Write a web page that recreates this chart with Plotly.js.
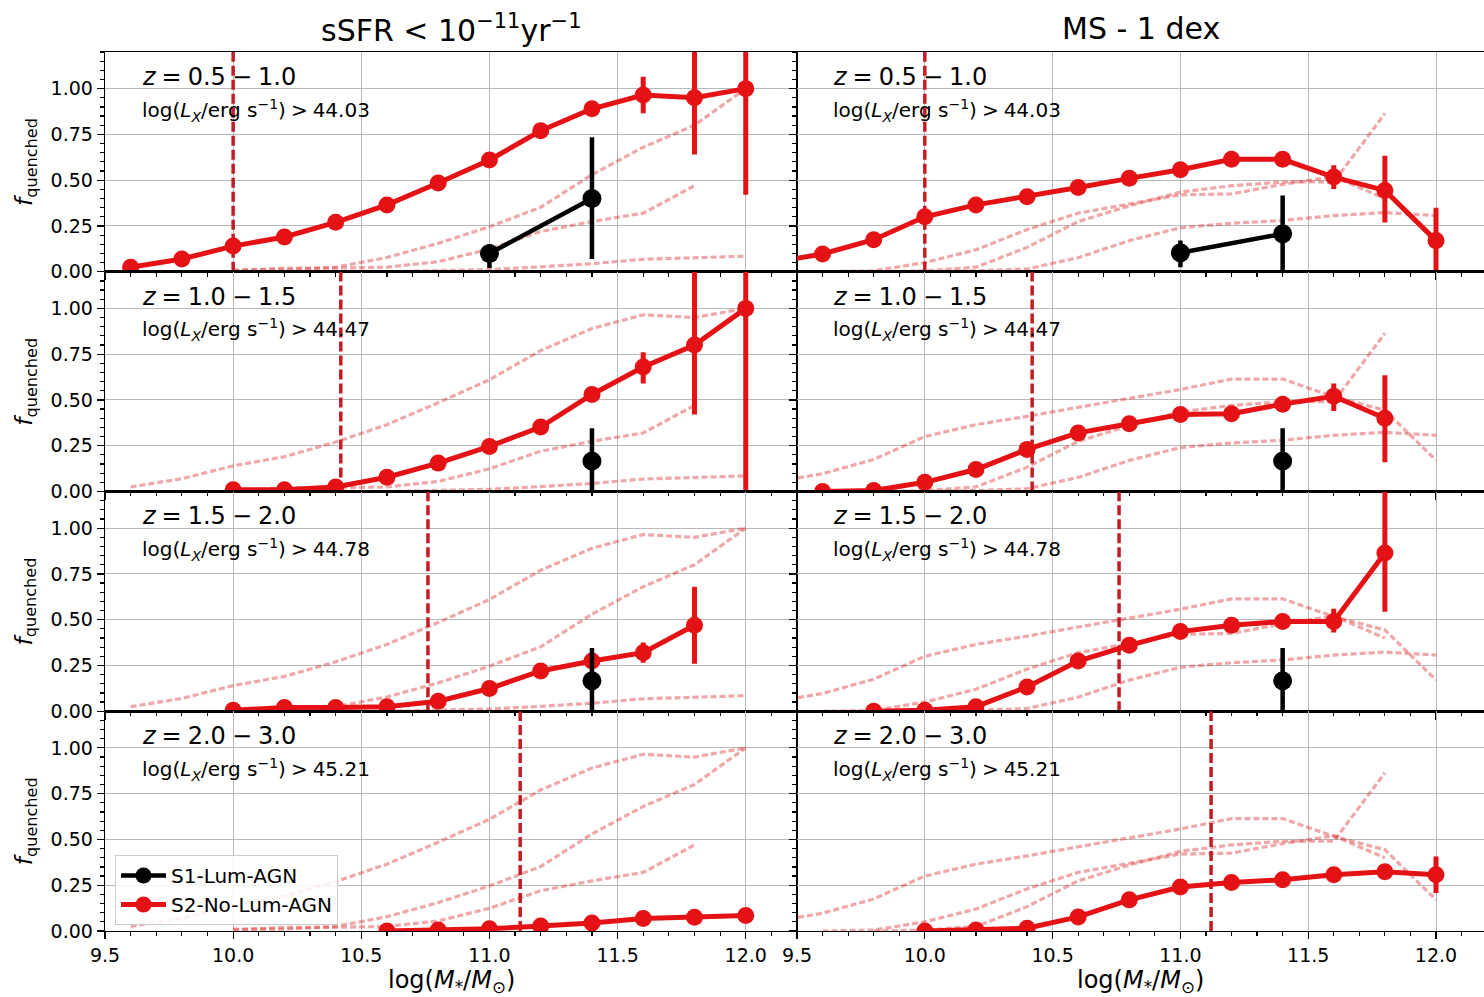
<!DOCTYPE html>
<html>
<head>
<meta charset="utf-8">
<script src="https://cdn.plot.ly/plotly-3.0.1.min.js"></script>
<style>html,body{margin:0;padding:0;background:#fff}</style>
</head>
<body>
<div id="chart" style="width:1484px;height:997px"></div>
<script>
// Stellar-mass bin centres, log(M*/Msun)
const mass = [9.4, 9.6, 9.8, 10.0, 10.2, 10.4, 10.6, 10.8, 11.0, 11.2, 11.4, 11.6, 11.8, 12.0];

// Redshift bins, X-ray luminosity cuts and mass-completeness limits (one per row)
const zBins = ['0.5 − 1.0', '1.0 − 1.5', '1.5 − 2.0', '2.0 − 3.0'];
const lxLimits = ['44.03', '44.47', '44.78', '45.21'];
const massLimits = [10.0, 10.42, 10.76, 11.12];
const columnTitles = ['sSFR &lt; 10<sup>−11</sup>yr<sup>−1</sup>', 'MS - 1 dex'];

// S2 (no luminous AGN): quenched fraction, sSFR < 1e-11 criterion
const s2SsfrZ1 = [null, 0.025, 0.07, 0.14, 0.19, 0.27, 0.365, 0.485, 0.61, 0.77, 0.89, 0.965, 0.95, 1.00];
const s2SsfrZ2 = [null, null, null, 0.01, 0.01, 0.025, 0.078, 0.155, 0.246, 0.352, 0.53, 0.68, 0.80, 1.00];
const s2SsfrZ3 = [null, null, null, 0.005, 0.02, 0.02, 0.025, 0.055, 0.124, 0.22, 0.274, 0.32, 0.47, null];
const s2SsfrZ4 = [null, null, null, null, null, null, 0.0, 0.005, 0.012, 0.027, 0.044, 0.068, 0.075, 0.085];
const s2SsfrUpZ1 = [null, 0.01, 0.02, 0.02, 0.02, 0.02, 0.02, 0.02, 0.02, 0.02, 0.02, 0.10, 0.35, 0.30];
const s2SsfrLoZ1 = [null, 0.01, 0.02, 0.02, 0.02, 0.02, 0.02, 0.02, 0.02, 0.02, 0.02, 0.10, 0.31, 0.58];
const s2SsfrUpZ2 = [null, null, null, 0.01, 0.01, 0.01, 0.02, 0.02, 0.02, 0.02, 0.03, 0.08, 0.45, 0.30];
const s2SsfrLoZ2 = [null, null, null, 0.01, 0.01, 0.01, 0.02, 0.02, 0.02, 0.02, 0.03, 0.09, 0.38, 1.00];
const s2SsfrUpZ3 = [null, null, null, 0.005, 0.01, 0.01, 0.01, 0.01, 0.02, 0.02, 0.02, 0.055, 0.21, null];
const s2SsfrLoZ3 = [null, null, null, 0.005, 0.01, 0.01, 0.01, 0.01, 0.02, 0.02, 0.02, 0.055, 0.21, null];
const s2SsfrUpZ4 = [null, null, null, null, null, null, 0.0, 0.005, 0.01, 0.01, 0.01, 0.015, 0.02, 0.03];
const s2SsfrLoZ4 = [null, null, null, null, null, null, 0.0, 0.005, 0.01, 0.01, 0.01, 0.015, 0.02, 0.03];

// S2 (no luminous AGN): quenched fraction, MS - 1 dex criterion
const s2MsZ1 = [0.05, 0.097, 0.175, 0.30, 0.365, 0.41, 0.46, 0.51, 0.557, 0.614, 0.614, 0.517, 0.444, 0.17];
const s2MsZ2 = [null, 0.0, 0.005, 0.05, 0.12, 0.23, 0.32, 0.37, 0.42, 0.425, 0.477, 0.52, 0.40, null];
const s2MsZ3 = [null, null, 0.0, 0.005, 0.025, 0.133, 0.274, 0.36, 0.435, 0.47, 0.49, 0.49, 0.864, null];
const s2MsZ4 = [null, null, null, 0.0, 0.005, 0.015, 0.077, 0.17, 0.24, 0.265, 0.28, 0.307, 0.323, 0.307];
const s2MsUpZ1 = [0.01, 0.01, 0.02, 0.02, 0.02, 0.02, 0.02, 0.02, 0.02, 0.02, 0.03, 0.065, 0.19, 0.18];
const s2MsLoZ1 = [0.01, 0.01, 0.02, 0.02, 0.02, 0.02, 0.02, 0.02, 0.02, 0.02, 0.03, 0.065, 0.175, 0.17];
const s2MsUpZ2 = [null, 0.0, 0.005, 0.01, 0.02, 0.02, 0.02, 0.02, 0.02, 0.02, 0.03, 0.07, 0.235, null];
const s2MsLoZ2 = [null, 0.0, 0.005, 0.01, 0.02, 0.02, 0.02, 0.02, 0.02, 0.02, 0.03, 0.08, 0.24, null];
const s2MsUpZ3 = [null, null, 0.0, 0.005, 0.01, 0.02, 0.02, 0.02, 0.02, 0.02, 0.03, 0.07, 0.40, null];
const s2MsLoZ3 = [null, null, 0.0, 0.005, 0.01, 0.02, 0.02, 0.02, 0.02, 0.02, 0.03, 0.06, 0.32, null];
const s2MsUpZ4 = [null, null, null, 0.0, 0.005, 0.01, 0.01, 0.01, 0.02, 0.02, 0.02, 0.03, 0.035, 0.10];
const s2MsLoZ4 = [null, null, null, 0.0, 0.005, 0.01, 0.01, 0.01, 0.02, 0.02, 0.02, 0.03, 0.035, 0.10];

// S1 (luminous AGN host) quenched fractions
const s1Mass = [11.0, 11.4];
const s1SsfrZ1 = [0.10, 0.40];
const s1SsfrZ2 = [null, 0.166];
const s1SsfrZ3 = [null, 0.166];
const s1SsfrZ4 = [null, null];
const s1SsfrUpZ1 = [0.05, 0.335];
const s1SsfrLoZ1 = [0.08, 0.33];
const s1SsfrUpZ2 = [null, 0.18];
const s1SsfrLoZ2 = [null, 0.166];
const s1SsfrUpZ3 = [null, 0.18];
const s1SsfrLoZ3 = [null, 0.166];
const s1MsZ1 = [0.104, 0.207];
const s1MsZ2 = [null, 0.166];
const s1MsZ3 = [null, 0.166];
const s1MsZ4 = [null, null];
const s1MsUpZ1 = [0.066, 0.21];
const s1MsLoZ1 = [0.08, 0.207];
const s1MsUpZ2 = [null, 0.18];
const s1MsLoZ2 = [null, 0.166];
const s1MsUpZ3 = [null, 0.18];
const s1MsLoZ3 = [null, 0.166];

// Group per column so that the panel loop can index them
const s2 = [[s2SsfrZ1, s2SsfrZ2, s2SsfrZ3, s2SsfrZ4], [s2MsZ1, s2MsZ2, s2MsZ3, s2MsZ4]];
const s2Up = [[s2SsfrUpZ1, s2SsfrUpZ2, s2SsfrUpZ3, s2SsfrUpZ4], [s2MsUpZ1, s2MsUpZ2, s2MsUpZ3, s2MsUpZ4]];
const s2Lo = [[s2SsfrLoZ1, s2SsfrLoZ2, s2SsfrLoZ3, s2SsfrLoZ4], [s2MsLoZ1, s2MsLoZ2, s2MsLoZ3, s2MsLoZ4]];
const s1 = [[s1SsfrZ1, s1SsfrZ2, s1SsfrZ3, s1SsfrZ4], [s1MsZ1, s1MsZ2, s1MsZ3, s1MsZ4]];
const s1Up = [[s1SsfrUpZ1, s1SsfrUpZ2, s1SsfrUpZ3, null], [s1MsUpZ1, s1MsUpZ2, s1MsUpZ3, null]];
const s1Lo = [[s1SsfrLoZ1, s1SsfrLoZ2, s1SsfrLoZ3, null], [s1MsLoZ1, s1MsLoZ2, s1MsLoZ3, null]];

const W = 1484, H = 997;
const FONT = 'DejaVu Sans, Liberation Sans, sans-serif';
const RED = 'rgb(228,18,20)';
const FAINT = 'rgba(222,60,60,0.45)';
const LIMIT = 'rgb(196,28,36)';

// panel geometry in pixels
const colLeft = [105, 797], colRight = [797, 1484];
const rowTop = [52, 271.75, 491.5, 711.25], rowBottom = [271.75, 491.5, 711.25, 931];
const xRanges = [[9.5, 12.2], [9.5, 9.5 + 687 / 255.6]];

const traces = [];
const layout = {
  width: W, height: H,
  margin: {l: 0, r: 0, t: 0, b: 0},
  paper_bgcolor: '#fff', plot_bgcolor: '#fff',
  font: {family: FONT, color: '#000'},
  showlegend: true,
  legend: {
    x: 115 / W, y: 1 - 855 / H, xanchor: 'left', yanchor: 'top',
    bgcolor: 'rgba(255,255,255,0.85)', bordercolor: '#cccccc', borderwidth: 1,
    font: {size: 20, family: FONT}, itemwidth: 45, tracegroupgap: 2
  },
  annotations: [], shapes: []
};

for (let r = 0; r < 4; r++) {
  for (let c = 0; c < 2; c++) {
    const n = r * 2 + c + 1;
    const xa = 'x' + n, ya = 'y' + n;
    // faint copies of the other redshift bins
    for (let k = 0; k < 4; k++) {
      if (k === r) continue;
      traces.push({
        x: mass, y: s2[c][k], xaxis: xa, yaxis: ya, mode: 'lines',
        line: {color: FAINT, width: 3.2, dash: '6px,3px'},
        showlegend: false, hoverinfo: 'skip'
      });
    }
    // mass-completeness limit
    traces.push({
      x: [massLimits[r], massLimits[r]], y: [0, 1.2], xaxis: xa, yaxis: ya, mode: 'lines',
      line: {color: LIMIT, width: 3.5, dash: '10px,4px'},
      showlegend: false, hoverinfo: 'skip', cliponaxis: true
    });
    // S2 curve
    traces.push({
      x: mass, y: s2[c][r], xaxis: xa, yaxis: ya, mode: 'lines+markers',
      name: 'S2-No-Lum-AGN', legendrank: 2,
      line: {color: RED, width: 5},
      marker: {color: RED, size: 17, symbol: 'circle'},
      error_y: {type: 'data', symmetric: false, array: s2Up[c][r], arrayminus: s2Lo[c][r],
                color: RED, thickness: 5, width: 0},
      showlegend: n === 1, cliponaxis: true
    });
    // S1 points
    if (s1Up[c][r]) {
      traces.push({
        x: s1Mass, y: s1[c][r], xaxis: xa, yaxis: ya, mode: 'lines+markers',
        name: 'S1-Lum-AGN', legendrank: 1,
        line: {color: '#000', width: 4.5},
        marker: {color: '#000', size: 19, symbol: 'circle'},
        error_y: {type: 'data', symmetric: false, array: s1Up[c][r], arrayminus: s1Lo[c][r],
                  color: '#000', thickness: 4.5, width: 0},
        showlegend: n === 1, cliponaxis: true
      });
    }

    const xKey = 'xaxis' + (n === 1 ? '' : n);
    const yKey = 'yaxis' + (n === 1 ? '' : n);
    layout[xKey] = {
      domain: [colLeft[c] / W, colRight[c] / W], anchor: ya,
      range: xRanges[c], tick0: 9.5, dtick: 0.5, tickformat: '.1f',
      showticklabels: r === 3, ticks: 'outside', ticklen: 7, tickwidth: 1.2, tickcolor: '#000',
      minor: {ticks: 'outside', ticklen: 3.5, dtick: 0.1, tick0: 9.5, tickcolor: '#000', showgrid: false},
      showgrid: true, gridcolor: '#b8b8b8', gridwidth: 1,
      showline: true, linecolor: '#000', linewidth: 1.3, mirror: true,
      zeroline: false, tickfont: {size: 19, family: FONT}, fixedrange: true
    };
    layout[yKey] = {
      domain: [1 - rowBottom[r] / H, 1 - rowTop[r] / H], anchor: xa,
      range: [0, 1.2], tick0: 0, dtick: 0.25, tickformat: '.2f',
      showticklabels: c === 0, ticks: 'outside', ticklen: 7, tickwidth: 1.2, tickcolor: '#000',
      minor: {ticks: 'outside', ticklen: 3.5, dtick: 0.05, tick0: 0, tickcolor: '#000', showgrid: false},
      showgrid: true, gridcolor: '#b8b8b8', gridwidth: 1,
      showline: true, linecolor: '#000', linewidth: 1.3, mirror: true,
      zeroline: false, tickfont: {size: 19, family: FONT}, fixedrange: true
    };

    layout.annotations.push({
      xref: xa + ' domain', yref: ya + ' domain', x: 0.05, y: 0.887,
      xanchor: 'left', yanchor: 'middle', showarrow: false,
      text: '<i>z</i>\u2005=\u20050.5'.replace('0.5', zBins[r]).replace(' − ', '\u2005−\u2005'),
      font: {size: 24, family: FONT}
    });
    layout.annotations.push({
      xref: xa + ' domain', yref: ya + ' domain', x: 0.05, y: 0.735,
      xanchor: 'left', yanchor: 'middle', showarrow: false,
      text: 'log(<i>L<sub>X</sub></i>/erg s<sup>−1</sup>)\u2005&gt;\u2005' + lxLimits[r],
      font: {size: 20, family: FONT}
    });
    if (c === 0) {
      layout.annotations.push({
        xref: 'paper', yref: ya + ' domain', x: 26 / W, y: 0.5,
        xanchor: 'center', yanchor: 'middle', showarrow: false, textangle: -90,
        text: '<i>f</i><sub>quenched</sub>', font: {size: 23, family: FONT}
      });
    }
  }
}

// column titles and x-axis labels
for (let c = 0; c < 2; c++) {
  const cx = (colLeft[c] + Math.min(colRight[c], colLeft[c] + 692)) / 2 / W;
  layout.annotations.push({
    xref: 'paper', yref: 'paper', x: cx, y: 1 - 28 / H, xanchor: 'center', yanchor: 'middle',
    showarrow: false, text: columnTitles[c], font: {size: 30, family: FONT}
  });
  layout.annotations.push({
    xref: 'paper', yref: 'paper', x: cx, y: 1 - 981 / H, xanchor: 'center', yanchor: 'middle',
    showarrow: false, text: 'log(<i>M</i><sub>*</sub>/<i>M</i><sub>⊙</sub>)', font: {size: 24, family: FONT}
  });
}

Plotly.newPlot('chart', traces, layout, {displayModeBar: false, staticPlot: true});
</script>
</body>
</html>
